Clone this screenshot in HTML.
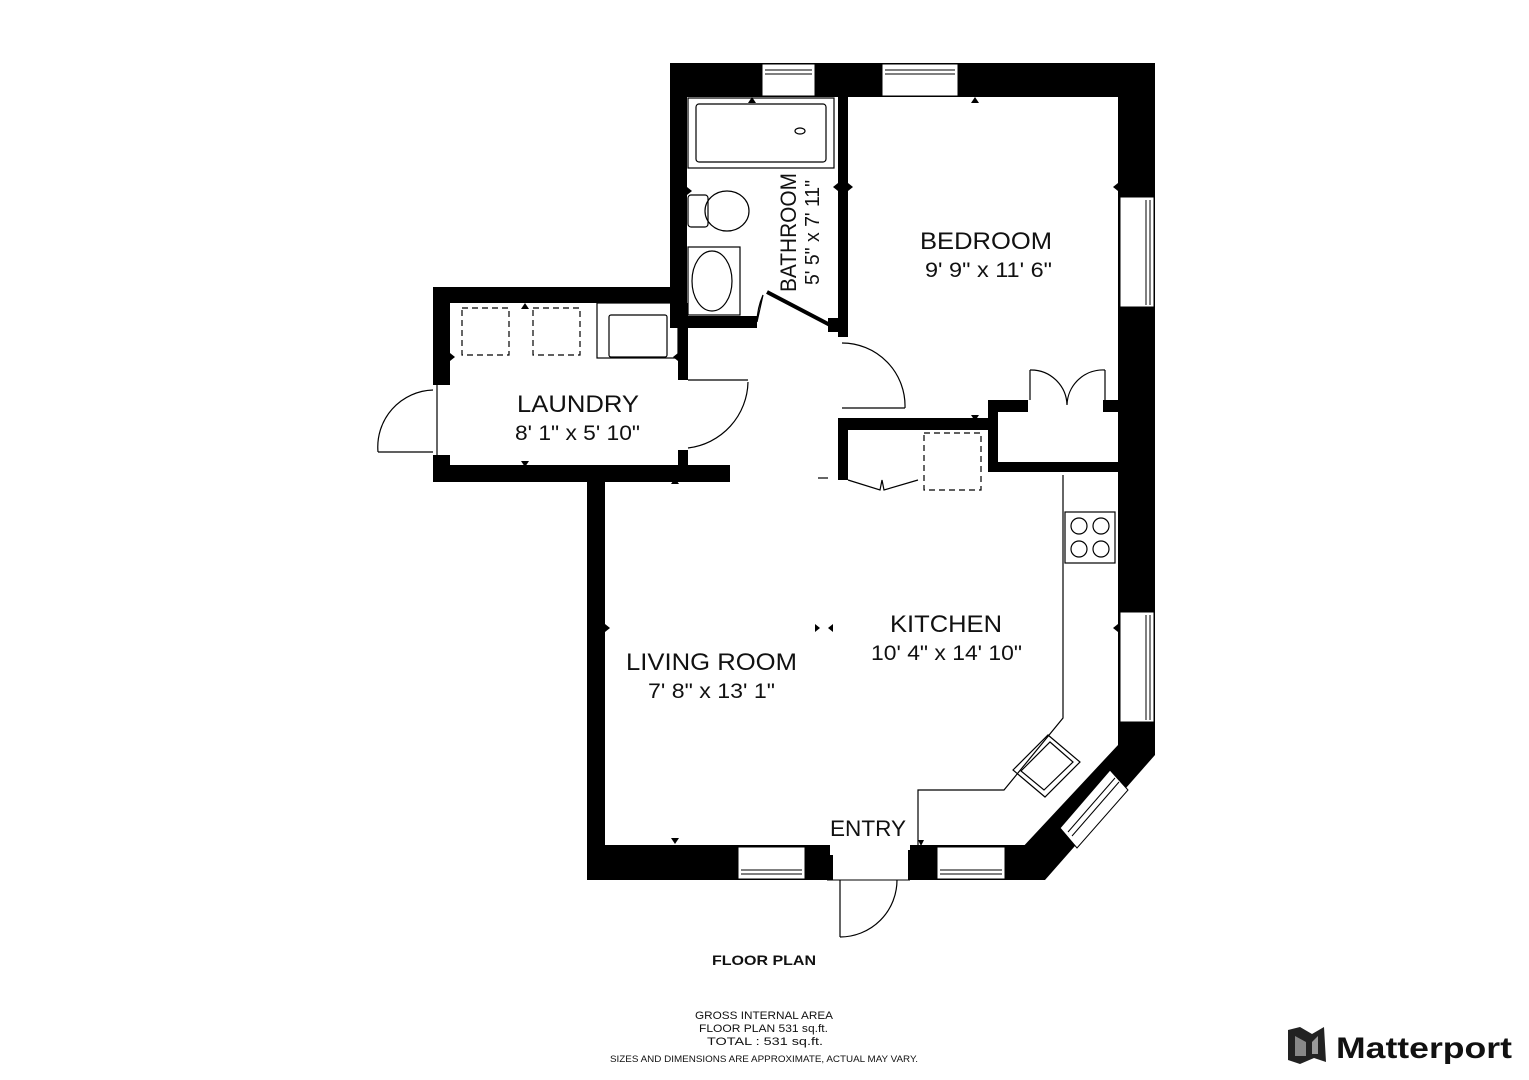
<!DOCTYPE html>
<html><head><meta charset="utf-8"><style>
html,body{margin:0;padding:0;background:#fff;}
svg{display:block;}
text{font-family:"Liberation Sans",sans-serif;fill:#111;}
</style></head><body>
<svg width="1529" height="1080" viewBox="0 0 1529 1080" xmlns="http://www.w3.org/2000/svg">
<g fill="#000">
<rect x="670" y="63" width="485" height="34"/>
<rect x="670" y="63" width="17" height="265"/>
<rect x="687" y="316" width="70" height="12"/>
<rect x="838" y="97" width="10" height="240"/>
<rect x="828" y="318" width="20" height="14"/>
<rect x="1118" y="63" width="37" height="684"/>
<polygon points="1118,720 1155,720 1155,755 1045,880 1020,850 1118,745"/>
<rect x="587" y="845" width="240" height="35"/>
<rect x="910" y="845" width="135" height="35"/>
<rect x="587" y="475" width="18" height="405"/>
<rect x="433" y="287" width="254" height="16"/>
<rect x="433" y="287" width="17" height="98"/>
<rect x="433" y="455" width="17" height="27"/>
<rect x="433" y="465" width="297" height="17"/>
<rect x="678" y="303" width="10" height="77"/>
<rect x="678" y="450" width="10" height="20"/>
<rect x="838" y="418" width="150" height="12"/>
<rect x="838" y="418" width="10" height="62"/>
<rect x="988" y="400" width="10" height="72"/>
<rect x="988" y="400" width="40" height="12"/>
<rect x="1103" y="400" width="15" height="12"/>
<rect x="988" y="462" width="130" height="10"/>
</g>
<g fill="#fff" stroke="#000" stroke-width="1">
<rect x="762" y="64" width="53" height="32"/>
<rect x="882" y="64" width="76" height="32"/>
<rect x="1120" y="197" width="34" height="110"/>
<rect x="1120" y="612" width="34" height="110"/>
<rect x="738" y="847" width="67" height="32"/>
<rect x="937" y="847" width="68" height="32"/>
<polygon points="1060,828 1110,770 1128,790 1077,848"/>
<rect x="827" y="866" width="83" height="14" stroke="none"/>
</g>
<g stroke="#000" stroke-width="1" fill="none">
<line x1="765" y1="70" x2="812" y2="70"/><line x1="765" y1="74" x2="812" y2="74"/>
<line x1="885" y1="70" x2="955" y2="70"/><line x1="885" y1="74" x2="955" y2="74"/>
<line x1="1146" y1="200" x2="1146" y2="305"/><line x1="1150" y1="200" x2="1150" y2="305"/>
<line x1="1146" y1="615" x2="1146" y2="720"/><line x1="1150" y1="615" x2="1150" y2="720"/>
<line x1="741" y1="870" x2="802" y2="870"/><line x1="741" y1="874" x2="802" y2="874"/>
<line x1="940" y1="870" x2="1002" y2="870"/><line x1="940" y1="874" x2="1002" y2="874"/>
<line x1="1068" y1="832" x2="1115" y2="778"/><line x1="1072" y1="836" x2="1119" y2="782"/>
<line x1="827" y1="880" x2="910" y2="880"/>
</g>
<g fill="#000">
<rect x="808" y="845" width="22" height="35"/><rect x="827" y="855" width="6" height="25"/>
<rect x="908" y="850" width="10" height="30"/>
<!-- arrow markers -->
<polygon points="748,103 756,103 752,97"/>
<polygon points="971,103 979,103 975,97"/>
<polygon points="521,309 529,309 525,303"/>
<polygon points="521,461 529,461 525,467"/>
<polygon points="671,484 679,484 675,478"/>
<polygon points="671,838 679,838 675,844"/>
<polygon points="971,415 979,415 975,421"/>
<polygon points="748,320 756,320 752,326"/>
<polygon points="450,353 450,361 455,357"/>
<polygon points="678,353 678,361 673,357"/>
<polygon points="687,187 687,195 692,191"/>
<polygon points="838,183 838,191 833,187"/>
<polygon points="848,183 848,191 853,187"/>
<polygon points="1118,183 1118,191 1113,187"/>
<polygon points="1118,624 1118,632 1113,628"/>
<polygon points="605,624 605,632 610,628"/>
<polygon points="815,624 815,632 820,628"/>
<polygon points="833,624 833,632 828,628"/>
<polygon points="918,840 924,840 921,846"/>
</g>
<g stroke="#000" stroke-width="1.2" fill="none">
<line x1="840" y1="880" x2="840" y2="937"/><path d="M840,937 A57,57 0 0 0 897,880"/>
<line x1="842" y1="408" x2="905" y2="408"/><path d="M842,343 A63,63 0 0 1 905,408"/>
<line x1="688" y1="380" x2="748" y2="380"/><path d="M688,448 A68,68 0 0 0 748,382"/>
<line x1="378" y1="452" x2="433" y2="452"/><path d="M378,452 A57,57 0 0 1 433,390"/>
<line x1="437" y1="385" x2="437" y2="455"/>
<path d="M757,322 L763,295 A70,70 0 0 0 757,322"/>
<path d="M1030,370 L1030,400 M1030,370 A36,36 0 0 1 1067,405 M1105,370 L1105,400 M1105,370 A36,36 0 0 0 1067,405"/>
<path d="M848,480 L880,490 L882,480 L884,490 L918,480"/>
<line x1="818" y1="478" x2="828" y2="478"/>
</g>
<line x1="767" y1="292" x2="830" y2="325" stroke="#000" stroke-width="4"/>
<g stroke="#000" stroke-width="1.2" fill="none">
<rect x="688" y="98" width="146" height="70"/>
<rect x="696" y="104" width="130" height="58" rx="3"/>
<ellipse cx="800" cy="131" rx="5" ry="3"/>
<rect x="688" y="195" width="20" height="32" rx="3"/>
<ellipse cx="727" cy="211" rx="22" ry="20"/>
<rect x="688" y="247" width="52" height="68"/>
<ellipse cx="712" cy="281" rx="20" ry="30"/>
<rect x="597" y="303" width="81" height="55"/>
<rect x="609" y="315" width="58" height="42" rx="2"/>
<rect x="1065" y="512" width="50" height="51"/>
<circle cx="1079" cy="526" r="8"/><circle cx="1101" cy="526" r="8"/>
<circle cx="1079" cy="549" r="8"/><circle cx="1101" cy="549" r="8"/>
<polyline points="1063,475 1063,718 1004,790 918,790 918,845"/>
<polygon points="1013,770 1048,735 1080,762 1045,797"/>
<polygon points="1021,771 1050,742 1073,762 1044,790"/>
<g stroke-dasharray="6,4">
<rect x="462" y="308" width="47" height="47"/>
<rect x="533" y="308" width="47" height="47"/>
<rect x="924" y="433" width="57" height="57"/>
</g>
</g>
<g font-size="24" text-anchor="start" lengthAdjust="spacingAndGlyphs">
<text x="920" y="249" textLength="132" lengthAdjust="spacingAndGlyphs">BEDROOM</text>
<text x="925" y="277" font-size="21" textLength="127" lengthAdjust="spacingAndGlyphs">9' 9" x 11' 6"</text>
<text x="517" y="412" textLength="122" lengthAdjust="spacingAndGlyphs">LAUNDRY</text>
<text x="515" y="440" font-size="21" textLength="125" lengthAdjust="spacingAndGlyphs">8' 1" x 5' 10"</text>
<text x="890" y="632" textLength="112" lengthAdjust="spacingAndGlyphs">KITCHEN</text>
<text x="871" y="660" font-size="21" textLength="151" lengthAdjust="spacingAndGlyphs">10' 4" x 14' 10"</text>
<text x="626" y="670" textLength="171" lengthAdjust="spacingAndGlyphs">LIVING ROOM</text>
<text x="648" y="698" font-size="21" textLength="127" lengthAdjust="spacingAndGlyphs">7' 8" x 13' 1"</text>
<text x="830" y="836" font-size="22" textLength="76" lengthAdjust="spacingAndGlyphs">ENTRY</text>
</g>
<text transform="translate(796,292) rotate(-90)" font-size="22" textLength="119" lengthAdjust="spacingAndGlyphs">BATHROOM</text>
<text transform="translate(819,285) rotate(-90)" font-size="20" textLength="105" lengthAdjust="spacingAndGlyphs">5' 5" x 7' 11"</text>
<text x="712" y="965" font-size="14" font-weight="bold" textLength="104" lengthAdjust="spacingAndGlyphs">FLOOR PLAN</text>
<text x="695" y="1019" font-size="11" textLength="138" lengthAdjust="spacingAndGlyphs">GROSS INTERNAL AREA</text>
<text x="699" y="1032" font-size="11" textLength="129" lengthAdjust="spacingAndGlyphs">FLOOR PLAN 531 sq.ft.</text>
<text x="707" y="1045" font-size="11" textLength="116" lengthAdjust="spacingAndGlyphs">TOTAL :  531 sq.ft.</text>
<text x="610" y="1062" font-size="9" fill="#555" textLength="308" lengthAdjust="spacingAndGlyphs">SIZES AND DIMENSIONS ARE APPROXIMATE, ACTUAL MAY VARY.</text>
<g>
<polygon points="1288,1030 1300,1027 1312,1034 1324,1027 1326,1062 1314,1058 1300,1064 1288,1060" fill="#222"/>
<polygon points="1295,1036 1306,1042 1306,1056 1295,1056" fill="#888"/>
<polygon points="1318,1036 1312,1042 1312,1054 1318,1054" fill="#999"/>
<text x="1336" y="1058" font-size="30" font-weight="bold" fill="#222" textLength="176" lengthAdjust="spacingAndGlyphs">Matterport</text>
</g>
</svg>
</body></html>
